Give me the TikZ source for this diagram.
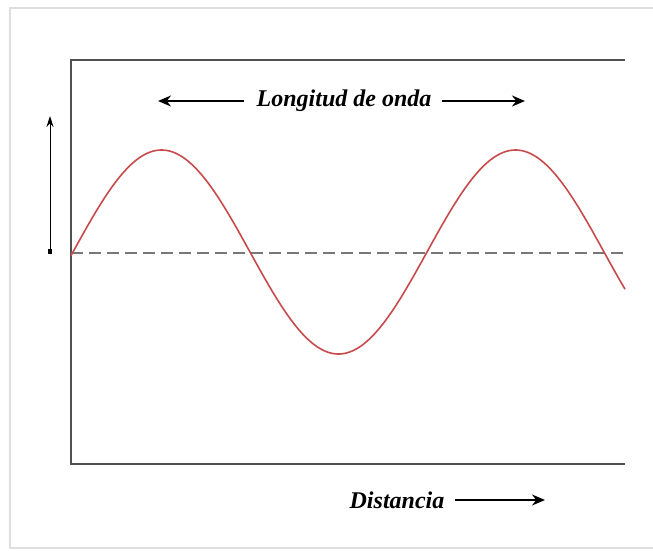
\documentclass[tikz,border=0pt]{standalone}
\usepackage{fontspec}
\setmainfont{Liberation Serif}
\usetikzlibrary{arrows.meta}
\definecolor{frame}{RGB}{222,222,222}
\definecolor{boxc}{RGB}{80,80,80}
\definecolor{wavec}{RGB}{200,75,75}
\definecolor{axisc}{RGB}{120,120,120}
\tikzset{
  outer/.style={draw=frame,line width=1.5pt},
  plotbox/.style={draw=boxc,line width=2.8pt},
  wave/.style={draw=wavec,line width=1.6pt},
  axisline/.style={draw=axisc,line width=1.6pt,dash pattern=on 12pt off 6pt},
  lab/.style={font=\bfseries\itshape\fontsize{24}{28}\selectfont,inner sep=0pt},
  arr/.style={line width=1.8pt,-{Stealth[length=13pt,width=11pt]}}
}
\begin{document}
\begin{tikzpicture}[x=1pt,y=-1pt]
\useasboundingbox (0,0) rectangle (653,551);
\fill[white] (0,0) rectangle (653,551);
% outer frame
\draw[outer] (653,8) -- (10,8) -- (10,548) -- (653,548);
% plot box (open on the right)
\draw[plotbox] (625,60) -- (71,60) -- (71,464) -- (625,464);
% dashed axis
\coordinate (o) at (71,253);
\coordinate (e) at (625,253);
\draw[axisline] (o) -- (e);
% wave
\draw[wave] plot[domain=71:625,samples=240,smooth] (\x,{252-102*sin((\x-73)/354*360)});
% amplitude arrow
\coordinate (ab) at (50,252);
\coordinate (at) at (50,116);
\draw[line width=1pt,-{Stealth[length=11pt,width=7pt]}] (ab) -- (at);
\fill (ab) ++(-2,-3) rectangle ++(4,5);
% wavelength label
\node[lab] (wl) at (344,101) {Longitud de onda};
\coordinate (wll) at (158,101);
\coordinate (wlr) at (525,101);
\draw[arr] ([xshift=-12pt]wl.west) -- (wll);
\draw[arr] ([xshift=10pt]wl.east) -- (wlr);
% distance label
\node[lab] (dist) at (397,500) {Distancia};
\coordinate (dr) at (545,500);
\draw[arr] ([xshift=10pt]dist.east) -- (dr);
\end{tikzpicture}
\end{document}
